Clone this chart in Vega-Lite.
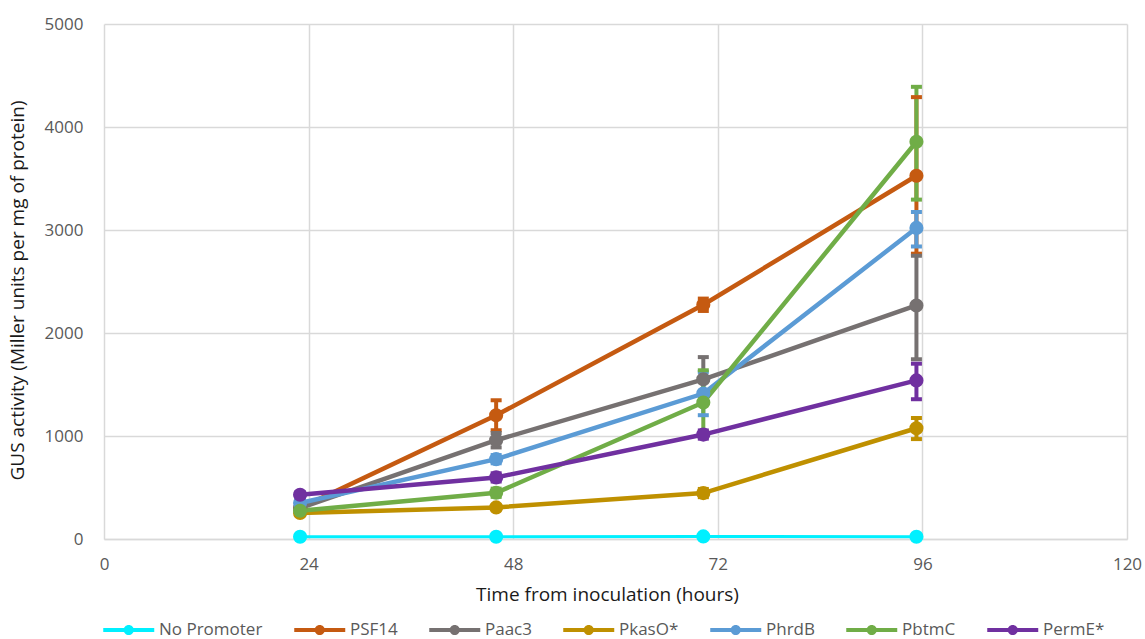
{
  "$schema": "https://vega.github.io/schema/vega-lite/v6.json",
  "autosize": "none",
  "width": 1023,
  "height": 515,
  "padding": {"left": 104, "top": 24, "right": 18, "bottom": 100},
  "background": "white",
  "data": {
    "values": [
      {"series": "No Promoter", "t": 23, "y": 22, "lo": 17, "hi": 27},
      {"series": "No Promoter", "t": 46, "y": 22, "lo": 17, "hi": 27},
      {"series": "No Promoter", "t": 70.3, "y": 25, "lo": 20, "hi": 30},
      {"series": "No Promoter", "t": 95.3, "y": 22, "lo": 17, "hi": 27},
      {"series": "PSF14", "t": 23, "y": 300, "lo": 270, "hi": 330},
      {"series": "PSF14", "t": 46, "y": 1201, "lo": 1056, "hi": 1347},
      {"series": "PSF14", "t": 70.3, "y": 2274, "lo": 2214, "hi": 2334},
      {"series": "PSF14", "t": 95.3, "y": 3527, "lo": 2770, "hi": 4290},
      {"series": "Paac3", "t": 23, "y": 300, "lo": 270, "hi": 330},
      {"series": "Paac3", "t": 46, "y": 959, "lo": 889, "hi": 1029},
      {"series": "Paac3", "t": 70.3, "y": 1550, "lo": 1334, "hi": 1766},
      {"series": "Paac3", "t": 95.3, "y": 2267, "lo": 1745, "hi": 2750},
      {"series": "PkasO*", "t": 23, "y": 252, "lo": 232, "hi": 272},
      {"series": "PkasO*", "t": 46, "y": 307, "lo": 287, "hi": 327},
      {"series": "PkasO*", "t": 70.3, "y": 446, "lo": 406, "hi": 486},
      {"series": "PkasO*", "t": 95.3, "y": 1075, "lo": 970, "hi": 1175},
      {"series": "PhrdB", "t": 23, "y": 350, "lo": 320, "hi": 380},
      {"series": "PhrdB", "t": 46, "y": 775, "lo": 735, "hi": 815},
      {"series": "PhrdB", "t": 70.3, "y": 1412, "lo": 1202, "hi": 1622},
      {"series": "PhrdB", "t": 95.3, "y": 3020, "lo": 2840, "hi": 3175},
      {"series": "PbtmC", "t": 23, "y": 274, "lo": 249, "hi": 299},
      {"series": "PbtmC", "t": 46, "y": 449, "lo": 409, "hi": 489},
      {"series": "PbtmC", "t": 70.3, "y": 1325, "lo": 1012, "hi": 1638},
      {"series": "PbtmC", "t": 95.3, "y": 3857, "lo": 3295, "hi": 4390},
      {"series": "PermE*", "t": 23, "y": 430, "lo": 405, "hi": 455},
      {"series": "PermE*", "t": 46, "y": 598, "lo": 558, "hi": 638},
      {"series": "PermE*", "t": 70.3, "y": 1014, "lo": 974, "hi": 1054},
      {"series": "PermE*", "t": 95.3, "y": 1540, "lo": 1357, "hi": 1702}
    ]
  },
  "encoding": {
    "x": {
      "field": "t",
      "type": "quantitative",
      "scale": {"domain": [0, 120], "nice": false, "zero": true},
      "axis": {
        "values": [0, 24, 48, 72, 96, 120],
        "title": "Time from inoculation (hours)",
        "ticks": false,
        "labelFlush": false,
        "labelPadding": 17,
        "titlePadding": 13,
        "titleX": 503,
        "titleAlign": "center"
      }
    },
    "color": {
      "field": "series",
      "type": "nominal",
      "scale": {
        "domain": ["No Promoter", "PSF14", "Paac3", "PkasO*", "PhrdB", "PbtmC", "PermE*"],
        "range": ["#00f0ff", "#c55a11", "#767171", "#bf9000", "#5b9bd5", "#70ad47", "#7030a0"]
      },
      "legend": {
        "title": null,
        "orient": "none",
        "direction": "horizontal",
        "columns": 7,
        "legendX": -1,
        "legendY": 593,
        "symbolType": "M-1,-0.16H3V0.16H-1Z M1.4,0 A0.4,0.4 0 1,1 0.6,0 A0.4,0.4 0 1,1 1.4,0 Z",
        "symbolSize": 650,
        "symbolStrokeWidth": 0,
        "labelOffset": 30,
        "columnPadding": 31,
        "labelFontSize": 17,
        "labelFont": "Open Sans",
        "labelColor": "#595959",
        "symbolOpacity": 1,
        "encode": {
          "symbols": {
            "update": {
              "fill": {"scale": "color", "field": "value"},
              "strokeWidth": {"value": 0},
              "opacity": {"value": 1}
            }
          }
        }
      }
    }
  },
  "layer": [
    {
      "mark": {"type": "rule", "strokeWidth": 4},
      "encoding": {
        "y": {"field": "lo", "type": "quantitative"},
        "y2": {"field": "hi"}
      }
    },
    {
      "mark": {"type": "tick", "orient": "horizontal", "size": 11, "thickness": 4, "opacity": 1},
      "encoding": {
        "y": {"field": "lo", "type": "quantitative"}
      }
    },
    {
      "mark": {"type": "tick", "orient": "horizontal", "size": 11, "thickness": 4, "opacity": 1},
      "encoding": {
        "y": {"field": "hi", "type": "quantitative"}
      }
    },
    {
      "transform": [{"filter": "datum.series === 'No Promoter'"}],
      "mark": {"type": "line", "strokeWidth": 3},
      "encoding": {
        "y": {"field": "y", "type": "quantitative"}
      }
    },
    {
      "transform": [{"filter": "datum.series !== 'No Promoter'"}],
      "mark": {"type": "line", "strokeWidth": 4.5},
      "encoding": {
        "y": {"field": "y", "type": "quantitative"}
      }
    },
    {
      "mark": {"type": "point", "filled": true, "shape": "circle", "size": 200, "opacity": 1},
      "encoding": {
        "y": {
          "field": "y",
          "type": "quantitative",
          "scale": {"domain": [0, 5000], "nice": false},
          "axis": {
            "values": [0, 1000, 2000, 3000, 4000, 5000],
            "format": "d",
            "title": "GUS activity (Miller units per mg of protein)",
            "ticks": false,
            "domain": false,
            "labelPadding": 21,
            "titlePadding": 17,
            "titleY": 266
          }
        }
      }
    }
  ],
  "resolve": {"scale": {"y": "shared"}},
  "config": {
    "view": {"stroke": null},
    "axis": {
      "grid": true,
      "gridColor": "#d9d9d9",
      "gridWidth": 1.5,
      "domainColor": "#d9d9d9",
      "domainWidth": 1.5,
      "labelFont": "Open Sans",
      "labelFontSize": 17,
      "labelColor": "#595959",
      "titleFont": "Open Sans",
      "titleFontSize": 19,
      "titleFontWeight": "normal",
      "titleColor": "#1a1a1a"
    }
  }
}
